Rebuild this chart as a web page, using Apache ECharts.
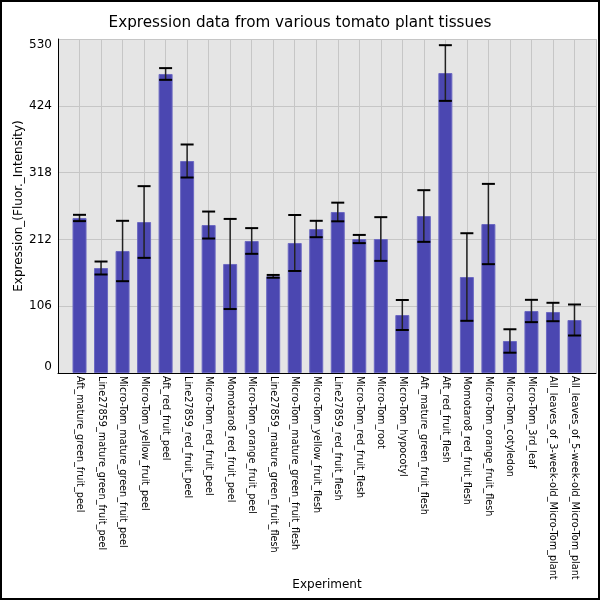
<!DOCTYPE html>
<html>
<head>
<meta charset="utf-8">
<script src="https://cdn.jsdelivr.net/npm/echarts@6/dist/echarts.min.js"></script>
<style>
html,body{margin:0;padding:0;background:#fff;}
#chart{width:600px;height:600px;}
</style>
</head>
<body>
<div id="chart"></div>
<script>
const categories = [
  "Aft_mature_green_fruit_peel",
  "Line27859_mature_green_fruit_peel",
  "Micro-Tom_mature_green_fruit_peel",
  "Micro-Tom_yellow_fruit_peel",
  "Aft_red_fruit_peel",
  "Line27859_red_fruit_peel",
  "Micro-Tom_red_fruit_peel",
  "Momotaro8_red_fruit_peel",
  "Micro-Tom_orange_fruit_peel",
  "Line27859_mature_green_fruit_flesh",
  "Micro-Tom_mature_green_fruit_flesh",
  "Micro-Tom_yellow_fruit_flesh",
  "Line27859_red_fruit_flesh",
  "Micro-Tom_red_fruit_flesh",
  "Micro-Tom_root",
  "Micro-Tom_hypocotyl",
  "Aft_mature_green_fruit_flesh",
  "Aft_red_fruit_flesh",
  "Momotaro8_red_fruit_flesh",
  "Micro-Tom_orange_fruit_flesh",
  "Micro-Tom_cotyledon",
  "Micro-Tom_3rd_leaf",
  "All_leaves_of_3-week-old_Micro-Tom_plant",
  "All_leaves_of_5-week-old_Micro-Tom_plant"
];
const values = [246, 166.6, 193.6, 239.6, 474.5, 336.4, 234.8, 173, 209.5, 153.4, 206.3, 228.5,
                255.5, 212.6, 212.6, 92, 249.1, 476, 152.3, 236.4, 50.8, 98.4, 96.8, 84.1];
const errors = [5, 10.3, 47.9, 56.9, 9.3, 26.2, 21.4, 71.5, 20.4, 2.2, 44.4, 13,
                14.8, 6.5, 34.7, 23.8, 41, 44.2, 69.5, 63.7, 18.6, 17.7, 14.6, 24.6];
const yTicks = [0, 106, 212, 318, 424, 530];

const barData = values.map((v, i) => [i + 1, v]);
const errData = values.map((v, i) => [i + 1, v - errors[i], v + errors[i]]);

const chart = echarts.init(document.getElementById('chart'), null, {renderer: 'canvas'});
const FONT = 'DejaVu Sans';
chart.setOption({
  animation: false,
  backgroundColor: '#fff',
  textStyle: {fontFamily: FONT},
  title: {
    text: 'Expression data from various tomato plant tissues',
    left: 'center', top: 11,
    textStyle: {fontFamily: FONT, fontSize: 15.2, fontWeight: 'normal', color: '#000'}
  },
  graphic: [{
    type: 'rect', silent: true, z: 100,
    shape: {x: 1, y: 1, width: 598, height: 598},
    style: {fill: 'none', stroke: '#000', lineWidth: 2}
  }],
  grid: {left: 58, right: 4, top: 39, bottom: 227, show: true, backgroundColor: '#e5e5e5', borderWidth: 0,
         containLabel: false, outerBoundsMode: 'none'},
  xAxis: {
    type: 'value', min: 0, max: 25, interval: 1,
    name: 'Experiment', nameLocation: 'middle', nameGap: 206, nameMoveOverlap: false,
    nameTextStyle: {fontFamily: FONT, fontSize: 12, color: '#000'},
    axisLine: {show: true, lineStyle: {color: '#000', width: 1}},
    axisTick: {show: false},
    splitLine: {show: true, lineStyle: {color: '#c6c6c6', width: 1}},
    axisLabel: {
      rotate: -90, margin: 3, fontFamily: FONT, fontSize: 9.7, color: '#000',
      showMinLabel: true, showMaxLabel: true,
      formatter: v => categories[v - 1] || ''
    }
  },
  yAxis: {
    type: 'value', min: yTicks[0], max: yTicks[yTicks.length - 1], interval: yTicks[1] - yTicks[0],
    name: 'Expression_(Fluor._Intensity)', nameLocation: 'middle', nameGap: 33, nameMoveOverlap: false,
    nameTextStyle: {fontFamily: FONT, fontSize: 12, color: '#000'},
    axisLine: {show: true, lineStyle: {color: '#000', width: 1}},
    axisTick: {show: false},
    splitLine: {show: true, lineStyle: {color: '#c6c6c6', width: 1}},
    axisLabel: {
      fontFamily: FONT, fontSize: 12, color: '#000', margin: 6,
      verticalAlignMinLabel: 'bottom', verticalAlignMaxLabel: 'top'
    }
  },
  series: [{
    type: 'bar', data: barData, barWidth: 14,
    itemStyle: {color: '#4b47b1', borderColor: '#6c69c2', borderWidth: 1}
  }, {
    type: 'custom', data: errData, z: 10,
    renderItem: function (params, api) {
      const x = api.value(0);
      const lo = api.coord([x, api.value(1)]);
      const hi = api.coord([x, api.value(2)]);
      const hw = 6.5;
      const st = {stroke: '#000', lineWidth: 2};
      return {
        type: 'group',
        children: [
          {type: 'line', shape: {x1: lo[0], y1: lo[1], x2: hi[0], y2: hi[1]}, style: {stroke: '#222', lineWidth: 1.5}},
          {type: 'line', shape: {x1: lo[0] - hw, y1: lo[1], x2: lo[0] + hw, y2: lo[1]}, style: st},
          {type: 'line', shape: {x1: hi[0] - hw, y1: hi[1], x2: hi[0] + hw, y2: hi[1]}, style: st}
        ]
      };
    }
  }]
});
</script>
</body>
</html>
